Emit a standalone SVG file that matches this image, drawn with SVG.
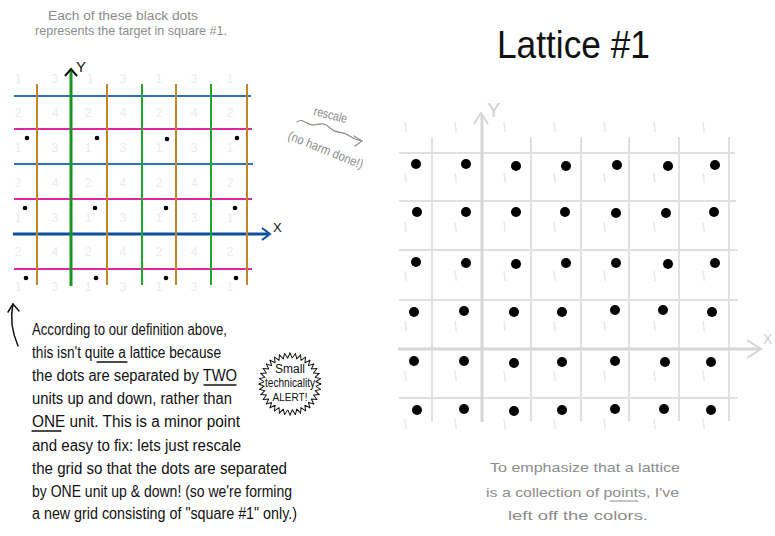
<svg xmlns="http://www.w3.org/2000/svg" xmlns:xlink="http://www.w3.org/1999/xlink" width="775" height="536" viewBox="0 0 775 536">
<style>
.note{font-family:"Liberation Sans","DejaVu Sans",sans-serif;fill:#8c8c8c;font-size:13px}
.para{font-family:"Liberation Sans","DejaVu Sans",sans-serif;fill:#111;font-size:16px}
.num{font-family:"Liberation Sans",sans-serif;fill:#ebebeb;font-size:12px;text-anchor:middle}
.blue{stroke:#2a74c2;stroke-width:2}
.mag{stroke:#e0279c;stroke-width:2}
.org{stroke:#c4842a;stroke-width:2}
.grn{stroke:#21a52b;stroke-width:2}
.rg{stroke:#e0e0e0;stroke-width:2}
.rax{stroke:#d6d6d6;stroke-width:3;fill:none}
.tick{stroke:#e8e8e8;stroke-width:1.5}
.ink{stroke:#111;stroke-width:1.5;fill:none;stroke-linecap:round;stroke-linejoin:round}
.gink{stroke:#8c8c8c;stroke-width:1.2;fill:none;stroke-linecap:round;stroke-linejoin:round}
</style>
<defs>
<path id="tooth" d="M31,0 L25.9,2.27 L30.53,5.38" class="ink" style="stroke-width:1"/>
<path id="tk" d="M0,0 L1.2,10"/>
</defs>

<g id="top-note">
<text class="note" x="48" y="20" textLength="150" lengthAdjust="spacingAndGlyphs">Each of these black dots</text>
<text class="note" x="35" y="35" textLength="192" lengthAdjust="spacingAndGlyphs">represents the target in square #1.</text>
</g>

<g id="left-grid">
<g id="left-numbers">
<text class="num" y="83"><tspan x="18">1</tspan><tspan x="55">3</tspan><tspan x="90">1</tspan><tspan x="123">3</tspan><tspan x="159">1</tspan><tspan x="194">3</tspan><tspan x="230">1</tspan></text>
<text class="num" y="117"><tspan x="18">2</tspan><tspan x="55">4</tspan><tspan x="88">2</tspan><tspan x="123">4</tspan><tspan x="159">2</tspan><tspan x="194">4</tspan><tspan x="230">2</tspan></text>
<text class="num" y="152"><tspan x="18">1</tspan><tspan x="55">3</tspan><tspan x="88">1</tspan><tspan x="123">3</tspan><tspan x="159">1</tspan><tspan x="194">3</tspan><tspan x="230">1</tspan></text>
<text class="num" y="187"><tspan x="18">2</tspan><tspan x="55">4</tspan><tspan x="88">2</tspan><tspan x="123">4</tspan><tspan x="159">2</tspan><tspan x="194">4</tspan><tspan x="230">2</tspan></text>
<text class="num" y="222"><tspan x="18">1</tspan><tspan x="55">3</tspan><tspan x="88">1</tspan><tspan x="123">3</tspan><tspan x="159">1</tspan><tspan x="194">3</tspan><tspan x="230">1</tspan></text>
<text class="num" y="256"><tspan x="18">2</tspan><tspan x="55">4</tspan><tspan x="88">2</tspan><tspan x="123">4</tspan><tspan x="159">2</tspan><tspan x="194">4</tspan><tspan x="230">2</tspan></text>
<text class="num" y="291"><tspan x="18">1</tspan><tspan x="55">3</tspan><tspan x="88">1</tspan><tspan x="123">3</tspan><tspan x="159">1</tspan><tspan x="194">3</tspan><tspan x="230">1</tspan></text>
</g>
<g id="left-horizontals">
<line class="blue" x1="14" y1="96" x2="251" y2="96"/>
<line class="mag" x1="14" y1="129" x2="252" y2="129"/>
<line class="blue" x1="14" y1="164" x2="253" y2="164"/>
<line class="mag" x1="14" y1="199" x2="252" y2="199"/>
<line class="mag" x1="14" y1="269" x2="252" y2="269"/>
<line x1="13" y1="234" x2="268" y2="234" stroke="#0d4f9f" stroke-width="3"/>
<path d="M262,228 L270,234 L262,240" fill="none" stroke="#0d4f9f" stroke-width="2"/>
<text x="273" y="232" font-family="Liberation Sans,sans-serif" font-size="13" fill="#111">X</text>
</g>
<g id="left-verticals">
<line class="org" x1="37" y1="84" x2="37" y2="285"/>
<line class="org" x1="107" y1="84" x2="107" y2="285"/>
<line class="org" x1="176" y1="84" x2="176" y2="285"/>
<line class="org" x1="247" y1="84" x2="247" y2="285"/>
<line class="grn" x1="142" y1="84" x2="142" y2="285"/>
<line class="grn" x1="211" y1="84" x2="211" y2="285"/>
<line x1="71" y1="69" x2="71" y2="286" stroke="#1a951f" stroke-width="3"/>
<path d="M65,76 L71,69 L77,76" fill="none" stroke="#111" stroke-width="2"/>
<text x="76" y="72" font-family="Liberation Sans,sans-serif" font-size="15" fill="#111">Y</text>
</g>
<g id="left-dots" fill="#000">
<circle cx="27" cy="138" r="2.3"/><circle cx="97" cy="138" r="2.3"/><circle cx="167" cy="139" r="2.3"/><circle cx="237" cy="138" r="2.3"/>
<circle cx="25" cy="208" r="2.3"/><circle cx="95" cy="208" r="2.3"/><circle cx="166" cy="208" r="2.3"/><circle cx="235" cy="208" r="2.3"/>
<circle cx="26" cy="278" r="2.3"/><circle cx="96" cy="278" r="2.3"/><circle cx="166" cy="278" r="2.3"/><circle cx="236" cy="278" r="2.3"/>
</g>
</g>

<g id="up-arrow">
<path class="ink" d="M18,346 C12,332 10,318 13,304"/>
<path class="ink" d="M8,312 L13,304 L19,311"/>
</g>

<g id="paragraph">
<text class="para" x="32" y="335" textLength="195" lengthAdjust="spacingAndGlyphs">According to our definition above,</text>
<text class="para" x="32" y="358" textLength="189" lengthAdjust="spacingAndGlyphs">this isn't quite a lattice because</text>
<text class="para" x="32" y="381" textLength="205" lengthAdjust="spacingAndGlyphs">the dots are separated by TWO</text>
<text class="para" x="32" y="404" textLength="200" lengthAdjust="spacingAndGlyphs">units up and down, rather than</text>
<text class="para" x="32" y="427" textLength="208" lengthAdjust="spacingAndGlyphs">ONE unit. This is a minor point</text>
<text class="para" x="32" y="451" textLength="209" lengthAdjust="spacingAndGlyphs">and easy to fix: lets just rescale</text>
<text class="para" x="32" y="474" textLength="255" lengthAdjust="spacingAndGlyphs">the grid so that the dots are separated</text>
<text class="para" x="32" y="497" textLength="260" lengthAdjust="spacingAndGlyphs">by ONE unit up &amp; down! (so we're forming</text>
<text class="para" x="32" y="519" textLength="265" lengthAdjust="spacingAndGlyphs">a new grid consisting of "square #1" only.)</text>
<path class="ink" d="M97,362 L127,362 M204,385 L236,385 M32,431 L61,431" style="stroke-width:1.3"/>
</g>

<g id="alert-burst" transform="translate(290,384)">
<use xlink:href="#tooth"/><use xlink:href="#tooth" transform="rotate(10)"/><use xlink:href="#tooth" transform="rotate(20)"/><use xlink:href="#tooth" transform="rotate(30)"/><use xlink:href="#tooth" transform="rotate(40)"/><use xlink:href="#tooth" transform="rotate(50)"/><use xlink:href="#tooth" transform="rotate(60)"/><use xlink:href="#tooth" transform="rotate(70)"/><use xlink:href="#tooth" transform="rotate(80)"/><use xlink:href="#tooth" transform="rotate(90)"/><use xlink:href="#tooth" transform="rotate(100)"/><use xlink:href="#tooth" transform="rotate(110)"/><use xlink:href="#tooth" transform="rotate(120)"/><use xlink:href="#tooth" transform="rotate(130)"/><use xlink:href="#tooth" transform="rotate(140)"/><use xlink:href="#tooth" transform="rotate(150)"/><use xlink:href="#tooth" transform="rotate(160)"/><use xlink:href="#tooth" transform="rotate(170)"/><use xlink:href="#tooth" transform="rotate(180)"/><use xlink:href="#tooth" transform="rotate(190)"/><use xlink:href="#tooth" transform="rotate(200)"/><use xlink:href="#tooth" transform="rotate(210)"/><use xlink:href="#tooth" transform="rotate(220)"/><use xlink:href="#tooth" transform="rotate(230)"/><use xlink:href="#tooth" transform="rotate(240)"/><use xlink:href="#tooth" transform="rotate(250)"/><use xlink:href="#tooth" transform="rotate(260)"/><use xlink:href="#tooth" transform="rotate(270)"/><use xlink:href="#tooth" transform="rotate(280)"/><use xlink:href="#tooth" transform="rotate(290)"/><use xlink:href="#tooth" transform="rotate(300)"/><use xlink:href="#tooth" transform="rotate(310)"/><use xlink:href="#tooth" transform="rotate(320)"/><use xlink:href="#tooth" transform="rotate(330)"/><use xlink:href="#tooth" transform="rotate(340)"/><use xlink:href="#tooth" transform="rotate(350)"/>
<text x="0" y="-11" text-anchor="middle" font-family="Liberation Sans,sans-serif" font-size="12" fill="#111">Small</text>
<text x="0" y="3" text-anchor="middle" font-family="Liberation Sans,sans-serif" font-size="12" fill="#111" textLength="50" lengthAdjust="spacingAndGlyphs">technicality</text>
<text x="0" y="17" text-anchor="middle" font-family="Liberation Sans,sans-serif" font-size="10" fill="#111">ALERT!</text>
</g>

<g id="rescale-note">
<text class="note" x="313" y="115" font-size="11" transform="rotate(14 313 115)" textLength="34" lengthAdjust="spacingAndGlyphs">rescale</text>
<path class="gink" d="M297,122 C303,117 307,126 314,125 S324,122 330,128 S342,131 348,135 S356,140 362,141"/>
<path class="gink" d="M354,136 L362,141 L355,146"/>
<text class="note" x="287" y="139" font-size="11" transform="rotate(22 287 139)" textLength="80" lengthAdjust="spacingAndGlyphs">(no harm done!)</text>
</g>

<g id="title">
<text x="497" y="58" font-family="Liberation Sans,sans-serif" font-size="38" fill="#111" textLength="153" lengthAdjust="spacingAndGlyphs">Lattice #1</text>
</g>

<g id="right-lattice">
<g id="right-ticks" class="tick">
<use xlink:href="#tk" x="405" y="122"/><use xlink:href="#tk" x="455" y="122"/><use xlink:href="#tk" x="504" y="122"/><use xlink:href="#tk" x="554" y="122"/><use xlink:href="#tk" x="604" y="122"/><use xlink:href="#tk" x="654" y="122"/><use xlink:href="#tk" x="703" y="122"/>
<use xlink:href="#tk" x="405" y="173"/><use xlink:href="#tk" x="455" y="173"/><use xlink:href="#tk" x="504" y="173"/><use xlink:href="#tk" x="554" y="173"/><use xlink:href="#tk" x="604" y="173"/><use xlink:href="#tk" x="654" y="173"/><use xlink:href="#tk" x="703" y="173"/>
<use xlink:href="#tk" x="405" y="222"/><use xlink:href="#tk" x="455" y="222"/><use xlink:href="#tk" x="504" y="222"/><use xlink:href="#tk" x="554" y="222"/><use xlink:href="#tk" x="604" y="222"/><use xlink:href="#tk" x="654" y="222"/><use xlink:href="#tk" x="703" y="222"/>
<use xlink:href="#tk" x="405" y="271"/><use xlink:href="#tk" x="455" y="271"/><use xlink:href="#tk" x="504" y="271"/><use xlink:href="#tk" x="554" y="271"/><use xlink:href="#tk" x="604" y="271"/><use xlink:href="#tk" x="654" y="271"/><use xlink:href="#tk" x="703" y="271"/>
<use xlink:href="#tk" x="405" y="321"/><use xlink:href="#tk" x="455" y="321"/><use xlink:href="#tk" x="504" y="321"/><use xlink:href="#tk" x="554" y="321"/><use xlink:href="#tk" x="604" y="321"/><use xlink:href="#tk" x="654" y="321"/><use xlink:href="#tk" x="703" y="321"/>
<use xlink:href="#tk" x="405" y="371"/><use xlink:href="#tk" x="455" y="371"/><use xlink:href="#tk" x="504" y="371"/><use xlink:href="#tk" x="554" y="371"/><use xlink:href="#tk" x="604" y="371"/><use xlink:href="#tk" x="654" y="371"/><use xlink:href="#tk" x="703" y="371"/>
<use xlink:href="#tk" x="405" y="419"/><use xlink:href="#tk" x="455" y="419"/><use xlink:href="#tk" x="504" y="419"/><use xlink:href="#tk" x="554" y="419"/><use xlink:href="#tk" x="604" y="419"/><use xlink:href="#tk" x="654" y="419"/><use xlink:href="#tk" x="703" y="419"/>
</g>
<g id="right-lines">
<line class="rg" x1="399" y1="153" x2="735" y2="153"/>
<line class="rg" x1="399" y1="201" x2="736" y2="201"/>
<line class="rg" x1="399" y1="250" x2="738" y2="250"/>
<line class="rg" x1="399" y1="300" x2="738" y2="300"/>
<line class="rg" x1="399" y1="398" x2="738" y2="398"/>
<line class="rg" x1="432" y1="137" x2="432" y2="421"/>
<line class="rg" x1="531" y1="137" x2="531" y2="421"/>
<line class="rg" x1="581" y1="137" x2="581" y2="421"/>
<line class="rg" x1="629" y1="137" x2="629" y2="421"/>
<line class="rg" x1="679" y1="137" x2="679" y2="421"/>
<line class="rg" x1="729" y1="137" x2="729" y2="421"/>
<line class="rax" x1="398" y1="349" x2="760" y2="349"/>
<path class="rax" d="M747,340 L761,349 L747,358" style="stroke-width:2"/>
<text x="763" y="344" font-family="Liberation Sans,sans-serif" font-size="14" fill="#d0d0d0">X</text>
<line class="rax" x1="482" y1="115" x2="482" y2="422"/>
<path class="rax" d="M474,124 L481,113 L488,124" style="stroke-width:2"/>
<text x="487" y="117" font-family="Liberation Sans,sans-serif" font-size="20" fill="#d0d0d0">Y</text>
</g>
<g id="right-dots" fill="#000">
<circle cx="416" cy="164" r="5"/><circle cx="466" cy="164" r="5"/><circle cx="516" cy="166" r="5"/><circle cx="566" cy="166" r="5"/><circle cx="617" cy="165" r="5"/><circle cx="668" cy="166" r="5"/><circle cx="715" cy="165" r="5"/>
<circle cx="417" cy="212" r="5"/><circle cx="466" cy="212" r="5"/><circle cx="516" cy="212" r="5"/><circle cx="565" cy="212" r="5"/><circle cx="616" cy="213" r="5"/><circle cx="666" cy="213" r="5"/><circle cx="714" cy="212" r="5"/>
<circle cx="416" cy="262" r="5"/><circle cx="466" cy="263" r="5"/><circle cx="516" cy="264" r="5"/><circle cx="566" cy="263" r="5"/><circle cx="616" cy="263" r="5"/><circle cx="668" cy="264" r="5"/><circle cx="715" cy="263" r="5"/>
<circle cx="414" cy="312" r="5"/><circle cx="464" cy="311" r="5"/><circle cx="514" cy="312" r="5"/><circle cx="562" cy="312" r="5"/><circle cx="615" cy="310" r="5"/><circle cx="663" cy="310" r="5"/><circle cx="712" cy="312" r="5"/>
<circle cx="414" cy="361" r="5"/><circle cx="464" cy="361" r="5"/><circle cx="514" cy="363" r="5"/><circle cx="562" cy="362" r="5"/><circle cx="615" cy="361" r="5"/><circle cx="665" cy="362" r="5"/><circle cx="711" cy="362" r="5"/>
<circle cx="417" cy="410" r="5"/><circle cx="464" cy="409" r="5"/><circle cx="514" cy="411" r="5"/><circle cx="562" cy="410" r="5"/><circle cx="615" cy="409" r="5"/><circle cx="664" cy="409" r="5"/><circle cx="711" cy="410" r="5"/>
</g>
</g>

<g id="bottom-note">
<text class="note" x="490" y="472" font-size="14" textLength="190" lengthAdjust="spacingAndGlyphs">To emphasize that a lattice</text>
<text class="note" x="486" y="497" font-size="14" textLength="193" lengthAdjust="spacingAndGlyphs">is a collection of points, I've</text>
<text class="note" x="508" y="520" font-size="14" textLength="140" lengthAdjust="spacingAndGlyphs">left off the colors.</text>
<path class="gink" d="M610,501 L638,501"/>
</g>
</svg>
